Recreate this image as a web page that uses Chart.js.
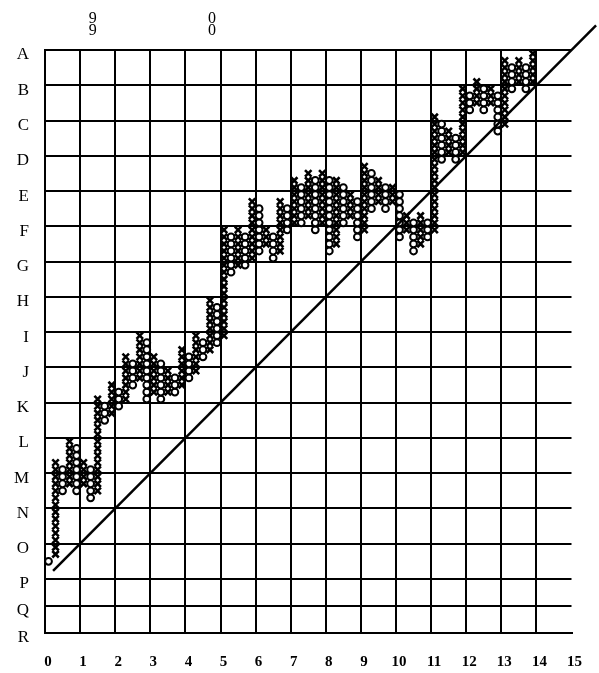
<!DOCTYPE html>
<html>
<head>
<meta charset="utf-8">
<script src="https://cdn.jsdelivr.net/npm/chart.js@4"></script>
<style>
  html, body { margin: 0; padding: 0; background: #fff; }
  #wrap { width: 599px; height: 673px; }
</style>
</head>
<body>
<div id="wrap"><canvas id="pfChart" width="599" height="673"></canvas></div>
<script>
// row letters on the left, value = boxes above the P line
const rowLabels = ["A", "B", "C", "D", "E", "F", "G", "H", "I", "J", "K", "L", "M", "N", "O", "P", "Q", "R"];
const rowValues = [75, 70, 65, 60, 55, 50, 45, 40, 35, 30, 25, 20, 15, 10, 5, 0, -3.83, -7.66];

// bottom axis
const xTicks = [0, 1, 2, 3, 4, 5, 6, 7, 8, 9, 10, 11, 12, 13, 14, 15];

// year markers along the top
const yearLabels = [["9", "9"], ["0", "0"]];
const yearPos = [1.36, 4.76];

// point & figure columns (box numbers), alternating O / X starting with O
const firstColumn = "O";
const colLow = [
  2, 3, 12, 13, 12, 13, 11, 12, 22, 23,
  24, 25, 27, 28, 25, 26, 25, 26, 26, 27,
  28, 29, 31, 32, 33, 34, 43, 44, 44, 45,
  46, 47, 45, 46, 49, 50, 50, 51, 49, 50,
  46, 47, 50, 51, 48, 49, 52, 53, 52, 53,
  48, 49, 46, 47, 48, 49, 59, 60, 59, 60,
  66, 67, 66, 67, 63, 64, 69, 70, 69, 70
];
const colHigh = [
  2, 16, 15, 19, 18, 16, 15, 25, 24, 27,
  26, 31, 30, 34, 33, 31, 30, 29, 28, 32,
  31, 34, 33, 39, 38, 49, 48, 49, 48, 53,
  52, 49, 48, 53, 52, 56, 55, 57, 56, 57,
  56, 56, 55, 54, 53, 58, 57, 56, 55, 55,
  54, 51, 50, 51, 50, 65, 64, 63, 62, 69,
  68, 70, 69, 69, 68, 73, 72, 73, 72, 74
];
const colsPerUnit = 5;

// 45 degree trend line
const trendX = [0.23, 15.7];
const trendY = [1.15, 78.5];

function buildBoxes() {
  const xs = [], os = [];
  colLow.forEach((lo, k) => {
    const isX = (k % 2 === 0) === (firstColumn === "X");
    const x = (k + 0.5) / colsPerUnit;
    for (let b = lo; b <= colHigh[k]; b++) {
      (isX ? xs : os).push({ x: x, y: b + 0.5 });
    }
  });
  return { xs, os };
}

const { xs, os } = buildBoxes();
const serif = "'Liberation Serif', 'DejaVu Serif', serif";

new Chart(document.getElementById("pfChart"), {
  type: "scatter",
  data: {
    datasets: [
      {
        type: "line",
        data: trendX.map((x, i) => ({ x: x, y: trendY[i] })),
        borderColor: "#000",
        borderWidth: 2.5,
        pointRadius: 0,
        fill: false,
        clip: false
      },
      {
        data: os,
        pointStyle: "circle",
        pointRadius: 3.4,
        borderWidth: 2,
        borderColor: "#000",
        backgroundColor: "#fff"
      },
      {
        data: xs,
        pointStyle: "crossRot",
        pointRadius: 4.6,
        borderWidth: 2.6,
        borderColor: "#000",
        backgroundColor: "#000"
      }
    ]
  },
  options: {
    responsive: false,
    animation: false,
    events: [],
    layout: { padding: { left: 0, right: 25, top: 0, bottom: 0 } },
    plugins: { legend: { display: false }, tooltip: { enabled: false } },
    scales: {
      x: {
        type: "linear",
        position: "bottom",
        min: 0,
        max: 15,
        afterBuildTicks: s => { s.ticks = xTicks.map(v => ({ value: v })); },
        afterFit: s => { s.height = 40; },
        grid: {
          color: c => (c.tick && c.tick.value === 15 ? "rgba(0,0,0,0)" : "#000"),
          lineWidth: 2,
          drawTicks: false
        },
        border: { display: true, color: "#000", width: 2 },
        ticks: {
          color: "#000",
          padding: 20,
          labelOffset: 3,
          maxRotation: 0,
          autoSkip: false,
          font: { family: serif, size: 15, weight: "bold" }
        }
      },
      x2: {
        type: "linear",
        position: "top",
        min: 0,
        max: 15,
        afterBuildTicks: s => { s.ticks = yearPos.map(v => ({ value: v })); },
        afterFit: s => { s.height = 50; },
        grid: { display: false, drawTicks: false },
        border: { display: false },
        ticks: {
          color: "#000",
          padding: 14,
          maxRotation: 0,
          autoSkip: false,
          callback: (v, i) => yearLabels[i],
          font: { family: serif, size: 16, lineHeight: 0.7 }
        }
      },
      y: {
        type: "linear",
        min: -7.66,
        max: 75,
        afterBuildTicks: s => { s.ticks = rowValues.map(v => ({ value: v })); },
        afterFit: s => { s.width = 45; },
        grid: { color: "#000", lineWidth: 2, drawTicks: false },
        border: { display: true, color: "#000", width: 2 },
        ticks: {
          color: "#000",
          padding: 16,
          labelOffset: 5,
          autoSkip: false,
          callback: (v, i) => rowLabels[i],
          font: { family: serif, size: 17 }
        }
      }
    }
  }
});
</script>
</body>
</html>
